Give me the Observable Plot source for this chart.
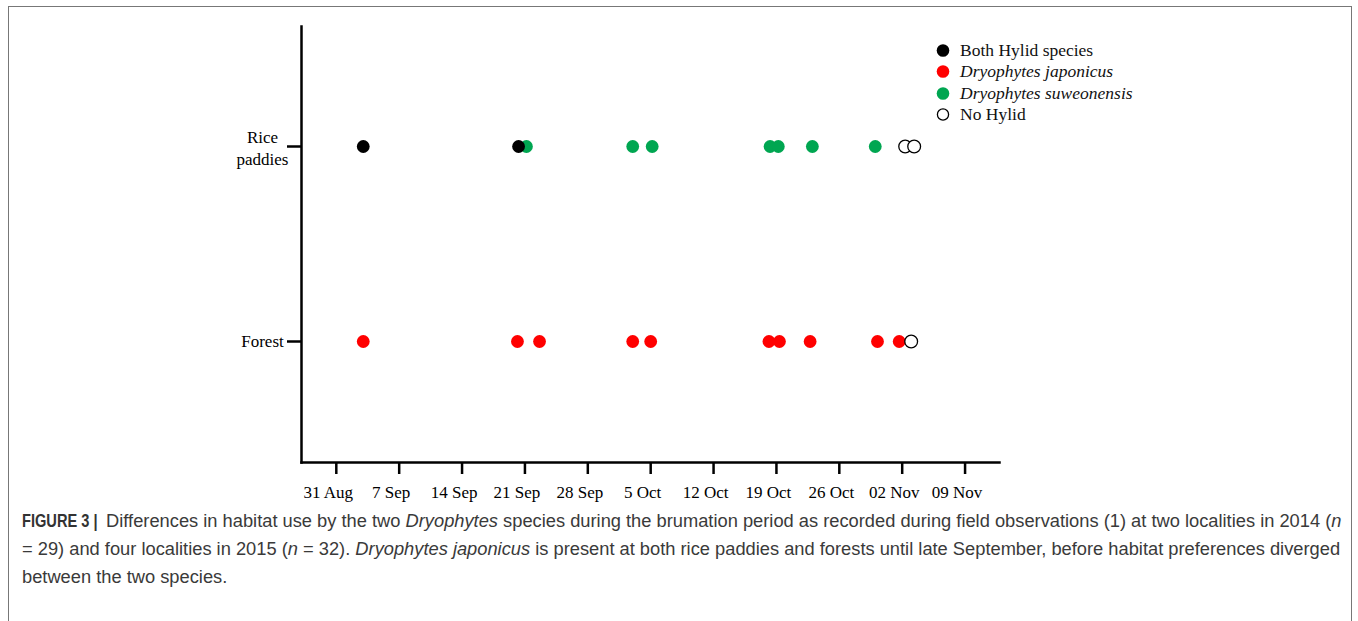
<!DOCTYPE html>
<html>
<head>
<meta charset="utf-8">
<script src="https://cdn.jsdelivr.net/npm/d3@7"></script>
<script src="https://cdn.jsdelivr.net/npm/@observablehq/plot@0.6"></script>
<style>
  html, body { margin: 0; padding: 0; background: #fff; width: 1358px; height: 621px; overflow: hidden; }
  #border { position: absolute; left: 8px; top: 6px; width: 1344px; height: 640px; border: 1.5px solid #777; box-sizing: border-box; }
  #chart { position: absolute; left: 0; top: 0; }
  #legend { position: absolute; left: 930px; top: 40px; font-family: "Liberation Serif", "Times New Roman", serif; font-size: 17.5px; color: #111; }
  #legend .row { height: 21.3px; line-height: 21.3px; display: flex; align-items: center; white-space: nowrap; }
  #legend svg { width: 26px; height: 21px; margin-right: 4px; }
  #caption { position: absolute; left: 22px; top: 507px; font-family: "Liberation Sans", Arial, sans-serif; font-size: 18.3px; line-height: 28px; color: #3a3a3a; white-space: nowrap; }
  #caption .fig { display: inline-block; width: 79px; white-space: nowrap; transform: scaleX(0.8); transform-origin: left center; color: #333; }
</style>
</head>
<body>
<div id="border"></div>
<div id="chart"></div>
<div id="legend"></div>
<div id="caption">
  <div><b class="fig">FIGURE 3 |</b> Differences in habitat use by the two <i>Dryophytes</i> species during the brumation period as recorded during field observations (1) at two localities in 2014 (<i>n</i></div>
  <div>= 29) and four localities in 2015 (<i>n</i> = 32). <i>Dryophytes japonicus</i> is present at both rice paddies and forests until late September, before habitat preferences diverged</div>
  <div>between the two species.</div>
</div>
<script>
// ---- data ----
const habitats = ["Rice paddies", "Forest"];
const habitatLabels = [["Rice", "paddies"], ["Forest"]];
const categories = ["Both Hylid species", "Dryophytes japonicus", "Dryophytes suweonensis", "No Hylid"];
const categoryColors = ["#000000", "#ff0000", "#00a651", "#ffffff"];

const riceBoth = ["2015-09-03", "2015-09-20T07:00"];
const riceSuweonensis = ["2015-09-21T04:00", "2015-10-03", "2015-10-05T04:00", "2015-10-18T07:00", "2015-10-19T05:00", "2015-10-23", "2015-10-30"];
const riceNone = ["2015-11-02T08:00", "2015-11-03T08:00"];
const forestJaponicus = ["2015-09-03", "2015-09-20T04:00", "2015-09-22T15:00", "2015-10-03", "2015-10-05", "2015-10-18T04:00", "2015-10-19T08:00", "2015-10-22T18:00", "2015-10-30T06:00", "2015-11-01T16:00"];
const forestNone = ["2015-11-03"];

const tickDates = ["2015-08-31", "2015-09-07", "2015-09-14", "2015-09-21", "2015-09-28", "2015-10-05", "2015-10-12", "2015-10-19", "2015-10-26", "2015-11-02", "2015-11-09"];
const tickLabels = ["31 Aug", "7 Sep", "14 Sep", "21 Sep", "28 Sep", "5 Oct", "12 Oct", "19 Oct", "26 Oct", "02 Nov", "09 Nov"];
const xDomain = ["2015-08-27T03:00", "2015-11-12T20:00"];

// ---- build ----
const parse = s => new Date(s + (s.length === 10 ? "T00:00Z" : "Z"));
const rows = (dates, habitat, category) => dates.map(d => ({date: parse(d), habitat, category}));
const data = [
  ...rows(riceSuweonensis, habitats[0], categories[2]),
  ...rows(forestJaponicus, habitats[1], categories[1]),
  ...rows(riceBoth, habitats[0], categories[0]),
  ...rows(riceNone, habitats[0], categories[3]),
  ...rows(forestNone, habitats[1], categories[3])
];
const ticks = tickDates.map(parse);
const fmt = d => tickLabels[ticks.findIndex(t => +t === +d)];
const serif = "Liberation Serif, Times New Roman, serif";

const plot = Plot.plot({
  width: 1358,
  height: 506,
  marginLeft: 301,
  marginRight: 359,
  marginTop: 26,
  marginBottom: 44,
  style: {fontFamily: serif, fontSize: "17px", color: "#000", background: "transparent"},
  x: {type: "utc", domain: xDomain.map(parse)},
  y: {type: "point", domain: habitats, range: [146, 341], padding: 0},
  color: {domain: categories, range: categoryColors},
  marks: [
    Plot.frame({anchor: "bottom", strokeWidth: 2.5, stroke: "#000"}),
    Plot.frame({anchor: "left", strokeWidth: 2.5, stroke: "#000"}),
    Plot.axisX({ticks, tickSize: 12, fill: "none", strokeWidth: 2.5, label: null}),
    Plot.axisX({ticks, tickSize: 0, tickPadding: 23, tickFormat: fmt, dx: -8, fontSize: 17, label: null, fill: "#000"}),
    Plot.axisY({tickSize: 14, fill: "none", strokeWidth: 2.5, label: null}),
    Plot.text([habitats[0]], {y: d => d, frameAnchor: "left", dx: -39, text: d => habitatLabels[0].join("\n"), textAnchor: "middle", lineHeight: 1.3, fontSize: 17, fill: "#000"}),
    Plot.text([habitats[1]], {y: d => d, frameAnchor: "left", dx: -39, text: d => habitatLabels[1].join("\n"), textAnchor: "middle", fontSize: 17, fill: "#000"}),
    Plot.dot(data, {x: "date", y: "habitat", r: 6.4, fill: "category",
      stroke: d => d.category === categories[3] ? "#000" : "none", strokeWidth: 1.3})
  ]
});
document.getElementById("chart").appendChild(plot);

// legend
const legend = document.getElementById("legend");
categories.forEach((c, i) => {
  const row = document.createElement("div");
  row.className = "row";
  const open = c === categories[3];
  row.innerHTML = `<svg viewBox="0 0 26 21"><circle cx="13" cy="10.5" r="${open ? 5.6 : 6.3}" fill="${categoryColors[i]}" stroke="${open ? '#000' : 'none'}" stroke-width="1.3"/></svg>` +
    `<span style="${c.startsWith('Dryophytes') ? 'font-style:italic' : ''}">${c}</span>`;
  legend.appendChild(row);
});
</script>
</body>
</html>
